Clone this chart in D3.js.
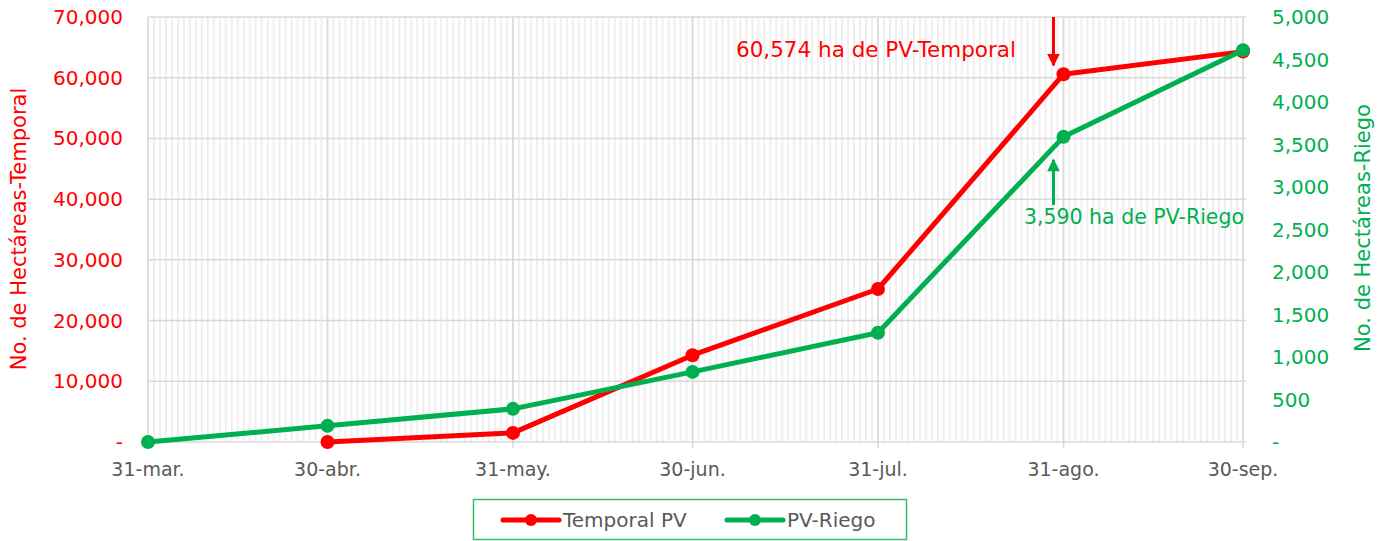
<!DOCTYPE html>
<html lang="es">
<head>
<meta charset="utf-8" />
<script src="https://cdn.jsdelivr.net/npm/d3@7"></script>
<style>
  body { margin: 0; background: #fff; }
  svg { font-family: "DejaVu Sans", sans-serif; }
</style>
</head>
<body>
<svg id="chart" width="1379" height="541"></svg>
<script>
// data
var monthDates = ["2023-03-31", "2023-04-30", "2023-05-31", "2023-06-30", "2023-07-31", "2023-08-31", "2023-09-30"];
var monthLabels = ["31-mar.", "30-abr.", "31-may.", "30-jun.", "31-jul.", "31-ago.", "30-sep."];
var temporalDates = ["2023-04-30", "2023-05-31", "2023-06-30", "2023-07-31", "2023-08-31", "2023-09-30"];
var temporalValues = [0, 1500, 14300, 25200, 60574, 64300];
var riegoDates = ["2023-03-31", "2023-04-30", "2023-05-31", "2023-06-30", "2023-07-31", "2023-08-31", "2023-09-30"];
var riegoValues = [0, 190, 390, 825, 1285, 3590, 4610];
var leftTicks = [0, 10000, 20000, 30000, 40000, 50000, 60000, 70000];
var rightTicks = [0, 500, 1000, 1500, 2000, 2500, 3000, 3500, 4000, 4500, 5000];

var RED = "#ff0000", GREEN = "#00b050", GREY = "#595959";

var parse = d3.timeParse("%Y-%m-%d");
var svg = d3.select("#chart");

var pLeft = 148, pRight = 1243, pTop = 17, pBottom = 442;

var x = d3.scaleTime()
    .domain([parse(monthDates[0]), parse(monthDates[monthDates.length - 1])])
    .range([pLeft, pRight]);
var yL = d3.scaleLinear().domain([0, 70000]).range([pBottom, pTop]);
var yR = d3.scaleLinear().domain([0, 5000]).range([pBottom, pTop]);

var fmt = function(v) { return v === 0 ? "-" : d3.format(",")(v); };

// minor daily grid
svg.append("g").selectAll("line")
    .data(d3.timeDay.range(x.domain()[0], d3.timeDay.offset(x.domain()[1], 1)))
  .enter().append("line")
    .attr("x1", function(d) { return x(d); })
    .attr("x2", function(d) { return x(d); })
    .attr("y1", pTop).attr("y2", pBottom)
    .attr("stroke", "#efefef").attr("stroke-width", 2);

// horizontal grid
svg.append("g").selectAll("line")
    .data(leftTicks)
  .enter().append("line")
    .attr("x1", pLeft).attr("x2", pRight + 3)
    .attr("y1", function(d) { return yL(d); })
    .attr("y2", function(d) { return yL(d); })
    .attr("stroke", "#d9d9d9").attr("stroke-width", 1.5);

// month grid + ticks
svg.append("g").selectAll("line")
    .data(monthDates)
  .enter().append("line")
    .attr("x1", function(d) { return x(parse(d)); })
    .attr("x2", function(d) { return x(parse(d)); })
    .attr("y1", pTop).attr("y2", pBottom + 6)
    .attr("stroke", "#d9d9d9").attr("stroke-width", 1.5);

// x labels
svg.append("g").selectAll("text")
    .data(monthDates)
  .enter().append("text")
    .attr("x", function(d) { return x(parse(d)); })
    .attr("y", pBottom + 34)
    .attr("text-anchor", "middle")
    .attr("fill", GREY)
    .style("font-size", "19px")
    .text(function(d, i) { return monthLabels[i]; });

// left axis labels
svg.append("g").selectAll("text")
    .data(leftTicks)
  .enter().append("text")
    .attr("x", 123)
    .attr("y", function(d) { return yL(d) + 7; })
    .attr("text-anchor", "end")
    .attr("fill", RED)
    .style("font-size", "20px")
    .text(fmt);

// right axis labels
svg.append("g").selectAll("text")
    .data(rightTicks)
  .enter().append("text")
    .attr("x", 1272)
    .attr("y", function(d) { return yR(d) + 7; })
    .attr("text-anchor", "start")
    .attr("fill", GREEN)
    .style("font-size", "20px")
    .text(fmt);

// axis titles
svg.append("text")
    .attr("transform", "translate(26,229) rotate(-90)")
    .attr("text-anchor", "middle")
    .attr("fill", RED)
    .style("font-size", "21px")
    .text("No. de Hectáreas-Temporal");

svg.append("text")
    .attr("transform", "translate(1370,228) rotate(-90)")
    .attr("text-anchor", "middle")
    .attr("fill", GREEN)
    .style("font-size", "21px")
    .text("No. de Hectáreas-Riego");

// series
function drawSeries(dates, values, y, color) {
  var pts = dates.map(function(d, i) { return [x(parse(d)), y(values[i])]; });
  svg.append("path")
      .datum(pts)
      .attr("d", d3.line())
      .attr("fill", "none")
      .attr("stroke", color)
      .attr("stroke-width", 5)
      .attr("stroke-linejoin", "round");
  svg.append("g").selectAll("circle")
      .data(pts)
    .enter().append("circle")
      .attr("cx", function(d) { return d[0]; })
      .attr("cy", function(d) { return d[1]; })
      .attr("r", 7)
      .attr("fill", color);
}
drawSeries(temporalDates, temporalValues, yL, RED);
drawSeries(riegoDates, riegoValues, yR, GREEN);

// annotations
var defs = svg.append("defs");
[["arRed", RED], ["arGreen", GREEN]].forEach(function(a) {
  defs.append("marker")
      .attr("id", a[0])
      .attr("viewBox", "0 0 10 10")
      .attr("refX", 9).attr("refY", 5)
      .attr("markerWidth", 4.5).attr("markerHeight", 4.2)
      .attr("markerUnits", "strokeWidth")
      .attr("orient", "auto")
    .append("path")
      .attr("d", "M0,0 L10,5 L0,10 Z")
      .attr("fill", a[1]);
});

var ax = x(parse("2023-08-31")) - 10;
svg.append("line")
    .attr("x1", ax).attr("x2", ax)
    .attr("y1", pTop).attr("y2", yL(60574) - 9)
    .attr("stroke", RED).attr("stroke-width", 3)
    .attr("marker-end", "url(#arRed)");
svg.append("text")
    .attr("x", 1016).attr("y", 57)
    .attr("text-anchor", "end")
    .attr("fill", RED)
    .style("font-size", "21.5px")
    .text("60,574 ha de PV-Temporal");

svg.append("line")
    .attr("x1", ax).attr("x2", ax)
    .attr("y1", 205).attr("y2", yR(3590) + 23)
    .attr("stroke", GREEN).attr("stroke-width", 3)
    .attr("marker-end", "url(#arGreen)");
svg.append("text")
    .attr("x", 1244).attr("y", 224)
    .attr("text-anchor", "end")
    .attr("fill", GREEN)
    .style("font-size", "20.5px")
    .text("3,590 ha de PV-Riego");

// legend
var lg = svg.append("g");
lg.append("rect")
    .attr("x", 473.5).attr("y", 499.5)
    .attr("width", 433).attr("height", 40)
    .attr("fill", "#fff")
    .attr("stroke", "#2fbf6a").attr("stroke-width", 1.5);
var legendItems = [["Temporal PV", RED, 503], ["PV-Riego", GREEN, 727]];
legendItems.forEach(function(it) {
  lg.append("line")
      .attr("x1", it[2]).attr("x2", it[2] + 56)
      .attr("y1", 520).attr("y2", 520)
      .attr("stroke", it[1]).attr("stroke-width", 5)
      .attr("stroke-linecap", "round");
  lg.append("circle")
      .attr("cx", it[2] + 28).attr("cy", 520).attr("r", 6)
      .attr("fill", it[1]);
  lg.append("text")
      .attr("x", it[2] + 60).attr("y", 527)
      .attr("fill", GREY)
      .style("font-size", "20px")
      .text(it[0]);
});
</script>
</body>
</html>
